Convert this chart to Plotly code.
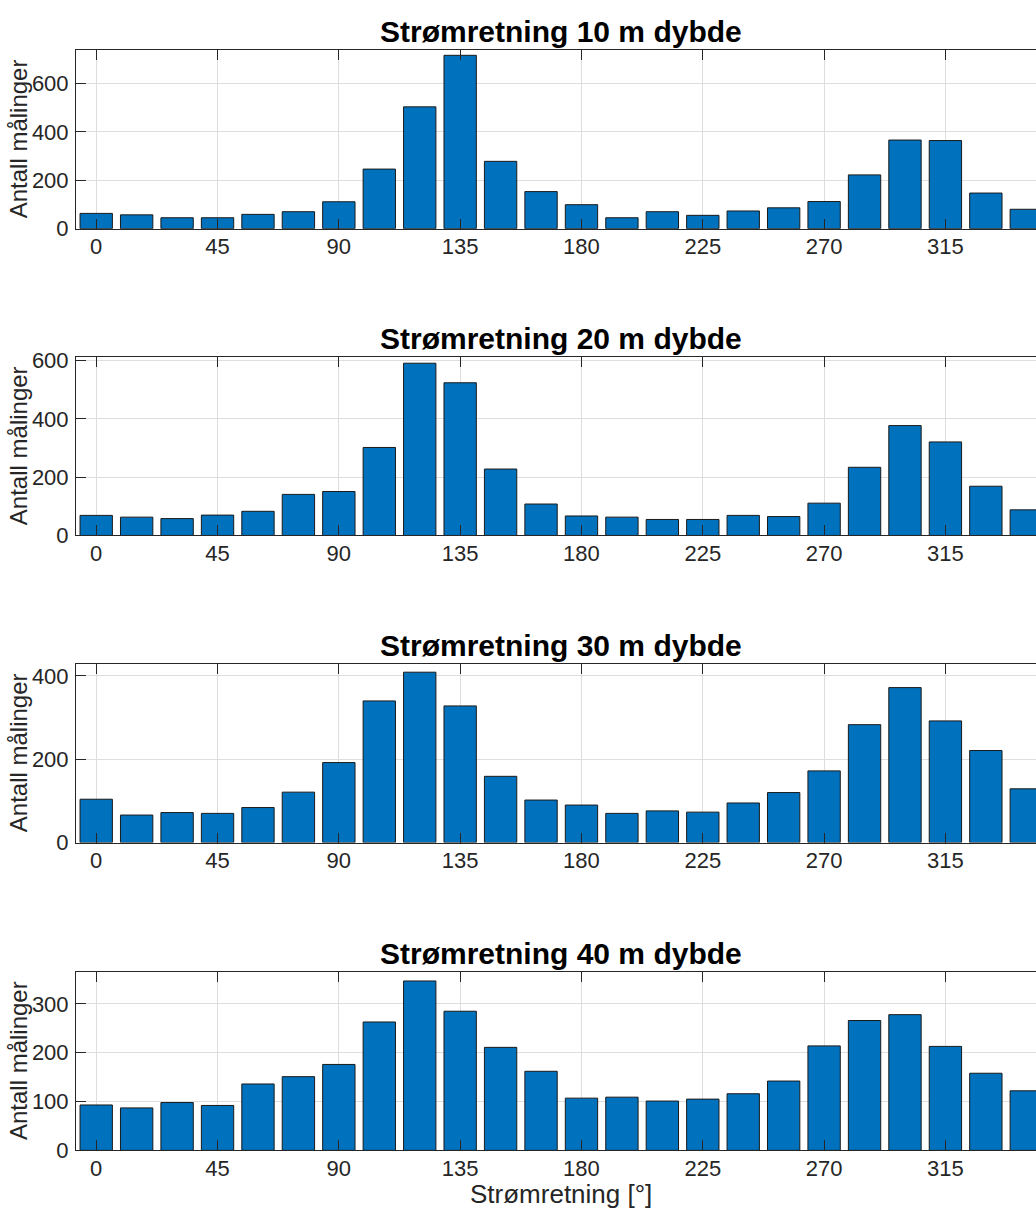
import plotly.graph_objects as go

# ---- data ----
angles = list(range(0, 360, 15))
depth_labels = ["10", "20", "30", "40"]
counts_10m = [63, 57, 45, 45, 59, 70, 111, 246, 503, 716, 278, 153, 99, 45, 70, 55, 73, 86, 112, 222, 366, 364, 147, 80]
counts_20m = [69, 63, 58, 70, 83, 141, 151, 302, 591, 524, 228, 108, 67, 63, 55, 55, 69, 65, 111, 234, 377, 321, 169, 88]
counts_30m = [104, 66, 72, 70, 84, 121, 192, 340, 409, 328, 159, 102, 90, 70, 76, 73, 95, 120, 172, 283, 372, 292, 221, 129]
counts_40m = [93, 87, 98, 92, 136, 151, 176, 263, 347, 285, 211, 162, 107, 109, 101, 105, 116, 142, 214, 266, 278, 213, 158, 122]
x_ticks = [0, 45, 90, 135, 180, 225, 270, 315]
y_ticks = [[0, 200, 400, 600], [0, 200, 400, 600], [0, 200, 400], [0, 100, 200, 300]]
y_max = [738, 613, 429, 366]
series = [counts_10m, counts_20m, counts_30m, counts_40m]

# ---- layout constants ----
W, H = 1036, 1225
FONT = "Liberation Sans, Arial, Helvetica, sans-serif"
AX = "#262626"
GRID = "#dedede"
BLUE = "#0072BD"
x_left_px = 76
tops = [42.7, 354.9, 667.3, 980.5]
ax_h = 181.8

fig = go.Figure()
layout = dict(
    width=W, height=H,
    margin=dict(l=0, r=0, t=0, b=0),
    paper_bgcolor="white", plot_bgcolor="white",
    showlegend=False, bargap=0.2,
    font=dict(family=FONT, color=AX, size=22),
)
annotations = []
for i, (dep, vals) in enumerate(zip(depth_labels, series)):
    n = "" if i == 0 else str(i + 1)
    fig.add_trace(go.Bar(
        x=angles, y=vals, xaxis="x" + n, yaxis="y" + n,
        marker=dict(color=BLUE, line=dict(color="#1a1a1a", width=1)),
        hoverinfo="x+y",
    ))
    top = tops[i]
    bot = top + ax_h
    dom_y = [1 - bot / H, 1 - top / H]
    layout["xaxis" + n] = dict(
        domain=[x_left_px / W, 1], anchor="y" + n,
        range=[-7.5, 348.6], tickmode="array", tickvals=x_ticks,
        ticks="inside", ticklen=10, tickcolor=AX, tickwidth=1,
        showline=True, linecolor=AX, linewidth=1, mirror="ticks",
        showgrid=True, gridcolor=GRID, gridwidth=1, zeroline=False,
        tickfont=dict(size=22, color=AX, family=FONT),
        ticklabelstandoff=-2,
    )
    layout["yaxis" + n] = dict(
        domain=dom_y, anchor="x" + n,
        range=[0, y_max[i]], tickmode="array", tickvals=y_ticks[i],
        ticks="inside", ticklen=10, tickcolor=AX, tickwidth=1,
        showline=True, linecolor=AX, linewidth=1, mirror=False,
        showgrid=True, gridcolor=GRID, gridwidth=1, zeroline=False,
        tickfont=dict(size=22, color=AX, family=FONT),
        ticklabelstandoff=2,
    )
    annotations.append(dict(
        text="<b>Strømretning " + dep + " m dybde</b>",
        xref="paper", yref="paper", x=561 / W, y=1 - top / H,
        xanchor="center", yanchor="bottom", yshift=0, showarrow=False,
        font=dict(size=30, color="black", family=FONT),
    ))
    annotations.append(dict(
        text="Antall målinger", textangle=-90,
        xref="paper", yref="paper", x=18 / W, y=1 - (top + ax_h / 2) / H,
        xanchor="center", yanchor="middle", showarrow=False,
        font=dict(size=24, color=AX, family=FONT),
    ))
annotations.append(dict(
    text="Strømretning [°]", xref="paper", yref="paper",
    x=561 / W, y=1 - 1207 / H, xanchor="center", yanchor="middle",
    showarrow=False, font=dict(size=26, color=AX, family=FONT),
))
layout["annotations"] = annotations
fig.update_layout(**layout)
fig.write_html(
    "out.html",
    post_script="document.body.style.margin='0';document.body.style.overflow='hidden';",
)
